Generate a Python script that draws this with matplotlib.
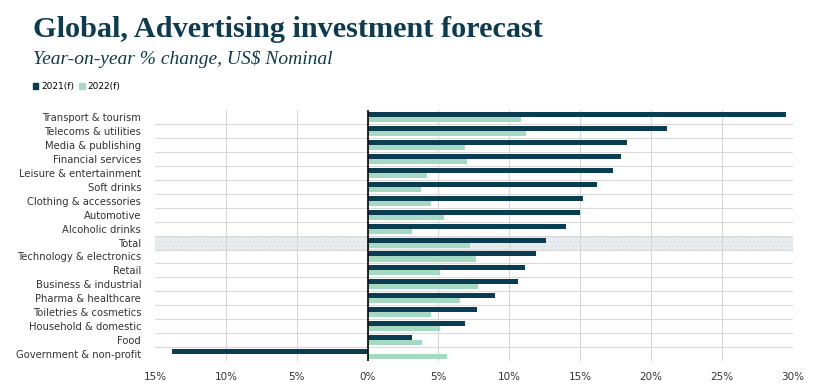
import numpy as np
import matplotlib
matplotlib.use('Agg')
import matplotlib.pyplot as plt
from matplotlib.patches import Patch

# Categorias, de arriba hacia abajo
categorias = [
    "Transport & tourism", "Telecoms & utilities", "Media & publishing",
    "Financial services", "Leisure & entertainment", "Soft drinks",
    "Clothing & accessories", "Automotive", "Alcoholic drinks", "Total",
    "Technology & electronics", "Retail", "Business & industrial",
    "Pharma & healthcare", "Toiletries & cosmetics", "Household & domestic",
    "Food", "Government & non-profit",
]

# Variacion % anual
valores_2021 = [29.5, 21.1, 18.3, 17.9, 17.3, 16.2, 15.2, 15.0, 14.0, 12.6,
                11.9, 11.1, 10.6, 9.0, 7.7, 6.9, 3.1, -13.8]
valores_2022 = [10.85, 11.2, 6.9, 7.0, 4.2, 3.8, 4.5, 5.4, 3.1, 7.25,
                7.65, 5.1, 7.8, 6.5, 4.5, 5.1, 3.85, 5.6]

ticks_x = [-15, -10, -5, 0, 5, 10, 15, 20, 25, 30]
etiquetas_x = ["15%", "10%", "5%", "0%", "5%", "10%", "15%", "20%", "25%", "30%"]

OSCURO = "#0b3d52"
CLARO = "#a6d9c1"
TITULO = "#0d3b4f"

fig = plt.figure(figsize=(8.38, 3.90), dpi=100)
ax = fig.add_axes([0.185, 0.074, 0.761, 0.644])

y = np.arange(len(categorias))
alto = 0.36

# Banda gris para el total
i_total = categorias.index("Total")
ax.axhspan(i_total - 0.5, i_total + 0.5, facecolor="#e9edef", edgecolor="#dde2e5",
           hatch="....", linewidth=0, zorder=0)

# Lineas de la rejilla
for t in ticks_x[1:-1]:
    if t != 0:
        ax.axvline(t, color="#d6d6d6", linewidth=0.8, zorder=1)
for k in range(len(categorias) - 1):
    ax.axhline(k + 0.5, color="#d9d9d9", linewidth=0.8, zorder=1)

ax.barh(y - alto / 2, valores_2021, height=alto, color=OSCURO, zorder=3, label="2021(f)")
ax.barh(y + alto / 2, valores_2022, height=alto, color=CLARO, zorder=3, label="2022(f)")

ax.axvline(0, color="black", linewidth=1.2, zorder=4)

ax.set_xlim(-15, 30)
ax.set_ylim(len(categorias) - 0.5, -0.5)
ax.set_yticks(y)
ax.set_yticklabels(categorias, fontsize=7.2, color="#333333")
ax.set_xticks(ticks_x)
ax.set_xticklabels(etiquetas_x, fontsize=7.5, color="#333333")
ax.tick_params(length=0, pad=8)
ax.tick_params(axis="y", pad=10)
for s in ax.spines.values():
    s.set_visible(False)

# Titulos
fig.text(0.039, 0.905, "Global, Advertising investment forecast", family="Liberation Serif",
         fontweight="bold", fontsize=21.8, color=TITULO)
fig.text(0.039, 0.835, "Year-on-year % change, US$ Nominal", family="Liberation Serif",
         style="italic", fontsize=14, color=TITULO)

# Leyenda
handles = [Patch(color=OSCURO, label="2021(f)"), Patch(color=CLARO, label="2022(f)")]
fig.legend(handles=handles, loc="center left", bbox_to_anchor=(0.035, 0.777), ncol=2,
           frameon=False, fontsize=6.5, handlelength=0.6, handleheight=0.6,
           handletextpad=0.3, columnspacing=0.6, borderaxespad=0)

fig.savefig("out.png", dpi=100)
